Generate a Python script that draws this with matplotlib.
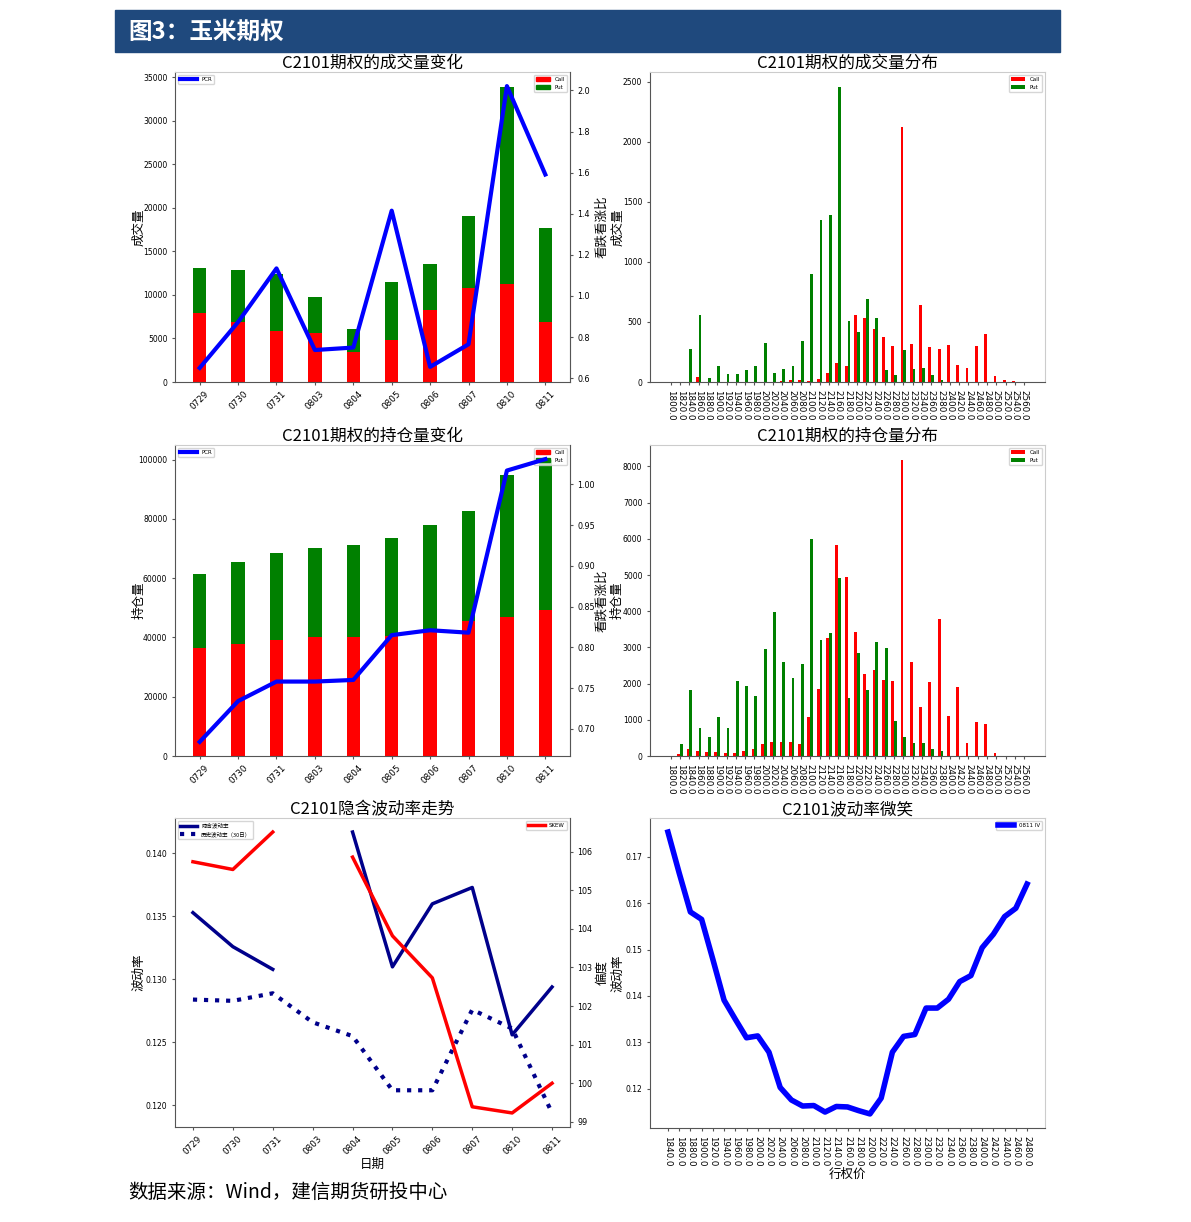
import numpy as np
import matplotlib.pyplot as plt
from matplotlib.patches import Patch, Rectangle

CJK = ['Noto Sans CJK SC', 'DejaVu Sans']

# daily data
dates = ['0729', '0730', '0731', '0803', '0804', '0805', '0806', '0807', '0810', '0811']
vol_call = [7920, 6890, 5810, 5580, 3440, 4780, 8220, 10790, 11250, 6840]
vol_put = [5200, 5960, 6620, 4130, 2600, 6730, 5350, 8330, 22670, 10830]
vol_pcr = [0.650, 0.873, 1.134, 0.737, 0.749, 1.415, 0.655, 0.765, 2.021, 1.591]

oi_call = [36290, 37870, 38990, 40000, 40220, 40560, 42920, 45500, 46850, 49100]
oi_put = [24960, 27630, 29550, 30220, 30790, 33040, 35060, 37090, 47870, 50800]
oi_pcr = [0.684, 0.734, 0.758, 0.758, 0.760, 0.815, 0.821, 0.818, 1.017, 1.031]

iv = [0.1353, 0.1326, 0.1308, np.nan, 0.1417, 0.1310, 0.1360, 0.1373, 0.1256, 0.1294]
hv = [0.1284, 0.1283, 0.1289, 0.1266, 0.1255, 0.1212, 0.1212, 0.1276, 0.1261, 0.1194]
skew = [105.74, 105.54, 106.51, np.nan, 105.86, 103.82, 102.73, 99.39, 99.23, 100.0]

# by strike
strikes = [1800, 1820, 1840, 1860, 1880, 1900, 1920, 1940, 1960, 1980,
           2000, 2020, 2040, 2060, 2080, 2100, 2120, 2140, 2160, 2180,
           2200, 2220, 2240, 2260, 2280, 2300, 2320, 2340, 2360, 2380,
           2400, 2420, 2440, 2460, 2480, 2500, 2520, 2540, 2560]
dist_vol_call = [0, 0, 0, 39, 0, 0, 0, 0, 0, 0,
                 0, 0, 5, 14, 17, 5, 22, 78, 158, 133,
                 554, 529, 440, 371, 299, 2126, 316, 642, 294, 271,
                 305, 138, 116, 302, 399, 47, 14, 5, 0]
dist_vol_put = [0, 0, 271, 554, 30, 130, 69, 64, 97, 136,
                321, 75, 108, 130, 338, 903, 1351, 1393, 2459, 507,
                418, 692, 534, 102, 61, 263, 108, 114, 55, 14,
                0, 0, 0, 0, 0, 0, 0, 0, 0]
dist_oi_call = [0, 55, 203, 129, 111, 111, 74, 74, 129, 185,
                323, 378, 397, 378, 323, 1070, 1855, 3257, 5841, 4946,
                3432, 2270, 2371, 2095, 2076, 8184, 2584, 1366, 2039, 3774,
                1107, 1901, 360, 932, 877, 92, 0, 0, 0]
dist_oi_put = [0, 341, 1818, 766, 526, 1070, 784, 2067, 1947, 1652,
               2953, 3986, 2593, 2159, 2547, 5988, 3192, 3386, 4909, 1596,
               2851, 1836, 3137, 2980, 969, 517, 369, 351, 185, 129,
               0, 0, 0, 0, 0, 0, 0, 0, 0]

smile_strikes = [1840, 1860, 1880, 1900, 1920, 1940, 1960, 1980, 2000, 2020,
                 2040, 2060, 2080, 2100, 2120, 2140, 2160, 2180, 2200, 2220,
                 2240, 2260, 2280, 2300, 2320, 2340, 2360, 2380, 2400, 2420,
                 2440, 2460, 2480]
smile_iv = [0.1753, 0.1665, 0.1581, 0.1565, 0.1479, 0.1391, 0.1350, 0.1310, 0.1314, 0.1279,
            0.1203, 0.1176, 0.1163, 0.1164, 0.1150, 0.1162, 0.1161, 0.1153, 0.1146, 0.1180,
            0.1279, 0.1313, 0.1317, 0.1374, 0.1374, 0.1393, 0.1431, 0.1444, 0.1504, 0.1533,
            0.1571, 0.1589, 0.1641]

W, H = 1191, 1222
fig = plt.figure(figsize=(W / 100, H / 100), dpi=100)


def box(x0, y0, x1, y1):
    return [x0 / W, 1 - y1 / H, (x1 - x0) / W, (y1 - y0) / H]


def style(ax):
    for s in ['top', 'right']:
        ax.spines[s].set_color('#cccccc')
    for s in ['left', 'bottom']:
        ax.spines[s].set_color('#555555')
    ax.tick_params(labelsize=5.5, length=2, color='#555555')
    ax.tick_params(axis='x', labelsize=6.3)


def style_twin(ax2):
    for s in ['top', 'left', 'bottom']:
        ax2.spines[s].set_visible(False)
    ax2.spines['right'].set_color('#555555')
    ax2.tick_params(labelsize=5.8, length=2, color='#555555')


# header and footer
fig.patches.append(Rectangle((115 / W, 1 - 52 / H), 945 / W, 42 / H,
                             transform=fig.transFigure, color='#1F497D', zorder=0))
fig.text(128 / W, 1 - 32 / H, '图3：玉米期权', color='white', fontsize=17,
         fontweight='bold', va='center', family=CJK)
fig.text(128 / W, 1 - 1192 / H, '数据来源：Wind，建信期货研投中心', fontsize=14,
         style='italic', va='center', family=CJK)

x = np.arange(len(dates))
xs = np.arange(len(strikes))
bar_legend = [Patch(color='red', label='Call'), Patch(color='green', label='Put')]


def left_label(ax, text):
    ax.set_ylabel(text, fontsize=9, family=CJK)
    ax.yaxis.set_label_coords(-0.075, 0.5)


def right_label(ax2, text):
    ax2.set_ylabel(text, fontsize=9, family=CJK)
    ax2.yaxis.set_label_coords(1.063, 0.5)


def dist_label(ax, text):
    ax.set_ylabel(text, fontsize=9, family=CJK)
    ax.yaxis.set_label_coords(-0.066, 0.5)


def daily_chart(pos, call, put, pcr, title, ylabel):
    ax = fig.add_axes(pos)
    style(ax)
    ax.bar(x, call, 0.35, color='red')
    ax.bar(x, put, 0.35, bottom=call, color='green')
    ax.set_xticks(x)
    ax.set_xticklabels(dates, rotation=45)
    ax.set_title(title, fontsize=12, family=CJK, pad=2)
    left_label(ax, ylabel)
    ax.legend(handles=bar_legend, loc='upper right', fontsize=4, handlelength=2.5)
    ax2 = ax.twinx()
    style_twin(ax2)
    ax2.plot(x, pcr, color='blue', lw=3, label='PCR')
    right_label(ax2, '看跌看涨比')
    ax2.legend(loc='upper left', fontsize=4, handlelength=3)
    return ax


def dist_chart(pos, call, put, title, ylabel):
    ax = fig.add_axes(pos)
    style(ax)
    ax.bar(xs - 0.15, call, 0.3, color='red', label='Call')
    ax.bar(xs + 0.15, put, 0.3, color='green', label='Put')
    ax.set_xticks(xs)
    ax.set_xticklabels([f'{s:.1f}' for s in strikes], rotation=270)
    ax.set_title(title, fontsize=12, family=CJK, pad=2)
    dist_label(ax, ylabel)
    ax.legend(loc='upper right', fontsize=4, handlelength=2.5)
    return ax


daily_chart(box(175, 72, 570, 382), vol_call, vol_put, vol_pcr,
            'C2101期权的成交量变化', '成交量')
dist_chart(box(650, 72, 1045, 382), dist_vol_call, dist_vol_put,
           'C2101期权的成交量分布', '成交量')
daily_chart(box(175, 445, 570, 756), oi_call, oi_put, oi_pcr,
            'C2101期权的持仓量变化', '持仓量')
dist_chart(box(650, 445, 1045, 756), dist_oi_call, dist_oi_put,
           'C2101期权的持仓量分布', '持仓量')

# implied volatility trend
ax = fig.add_axes(box(175, 818, 570, 1127))
style(ax)
ax.plot(x, iv, color='#00008B', lw=2.5, label='隐含波动率')
ax.plot(x, hv, color='#00008B', lw=3, ls=':', label='历史波动率（30日）')
ax.set_xticks(x)
ax.set_xticklabels(dates, rotation=45)
ax.yaxis.set_major_formatter(plt.FormatStrFormatter('%.3f'))
ax.set_title('C2101隐含波动率走势', fontsize=12, family=CJK, pad=2)
left_label(ax, '波动率')
ax.set_xlabel('日期', fontsize=9, family=CJK, labelpad=1)
ax.legend(loc='upper left', prop={'family': CJK, 'size': 4}, handlelength=3)
ax2 = ax.twinx()
style_twin(ax2)
ax2.plot(x, skew, color='red', lw=2.5, label='SKEW')
right_label(ax2, '偏度')
ax2.legend(loc='upper right', fontsize=4, handlelength=3)

# volatility smile
ax = fig.add_axes(box(650, 818, 1045, 1128))
style(ax)
xm = np.arange(len(smile_strikes))
ax.plot(xm, smile_iv, color='blue', lw=4, label='0811 IV')
ax.set_xticks(xm)
ax.set_xticklabels([f'{s:.1f}' for s in smile_strikes], rotation=270)
ax.set_title('C2101波动率微笑', fontsize=12, family=CJK, pad=2)
dist_label(ax, '波动率')
ax.set_xlabel('行权价', fontsize=9, family=CJK, labelpad=1)
ax.legend(loc='upper right', fontsize=4, handlelength=3)

fig.savefig('out.png', dpi=100)
